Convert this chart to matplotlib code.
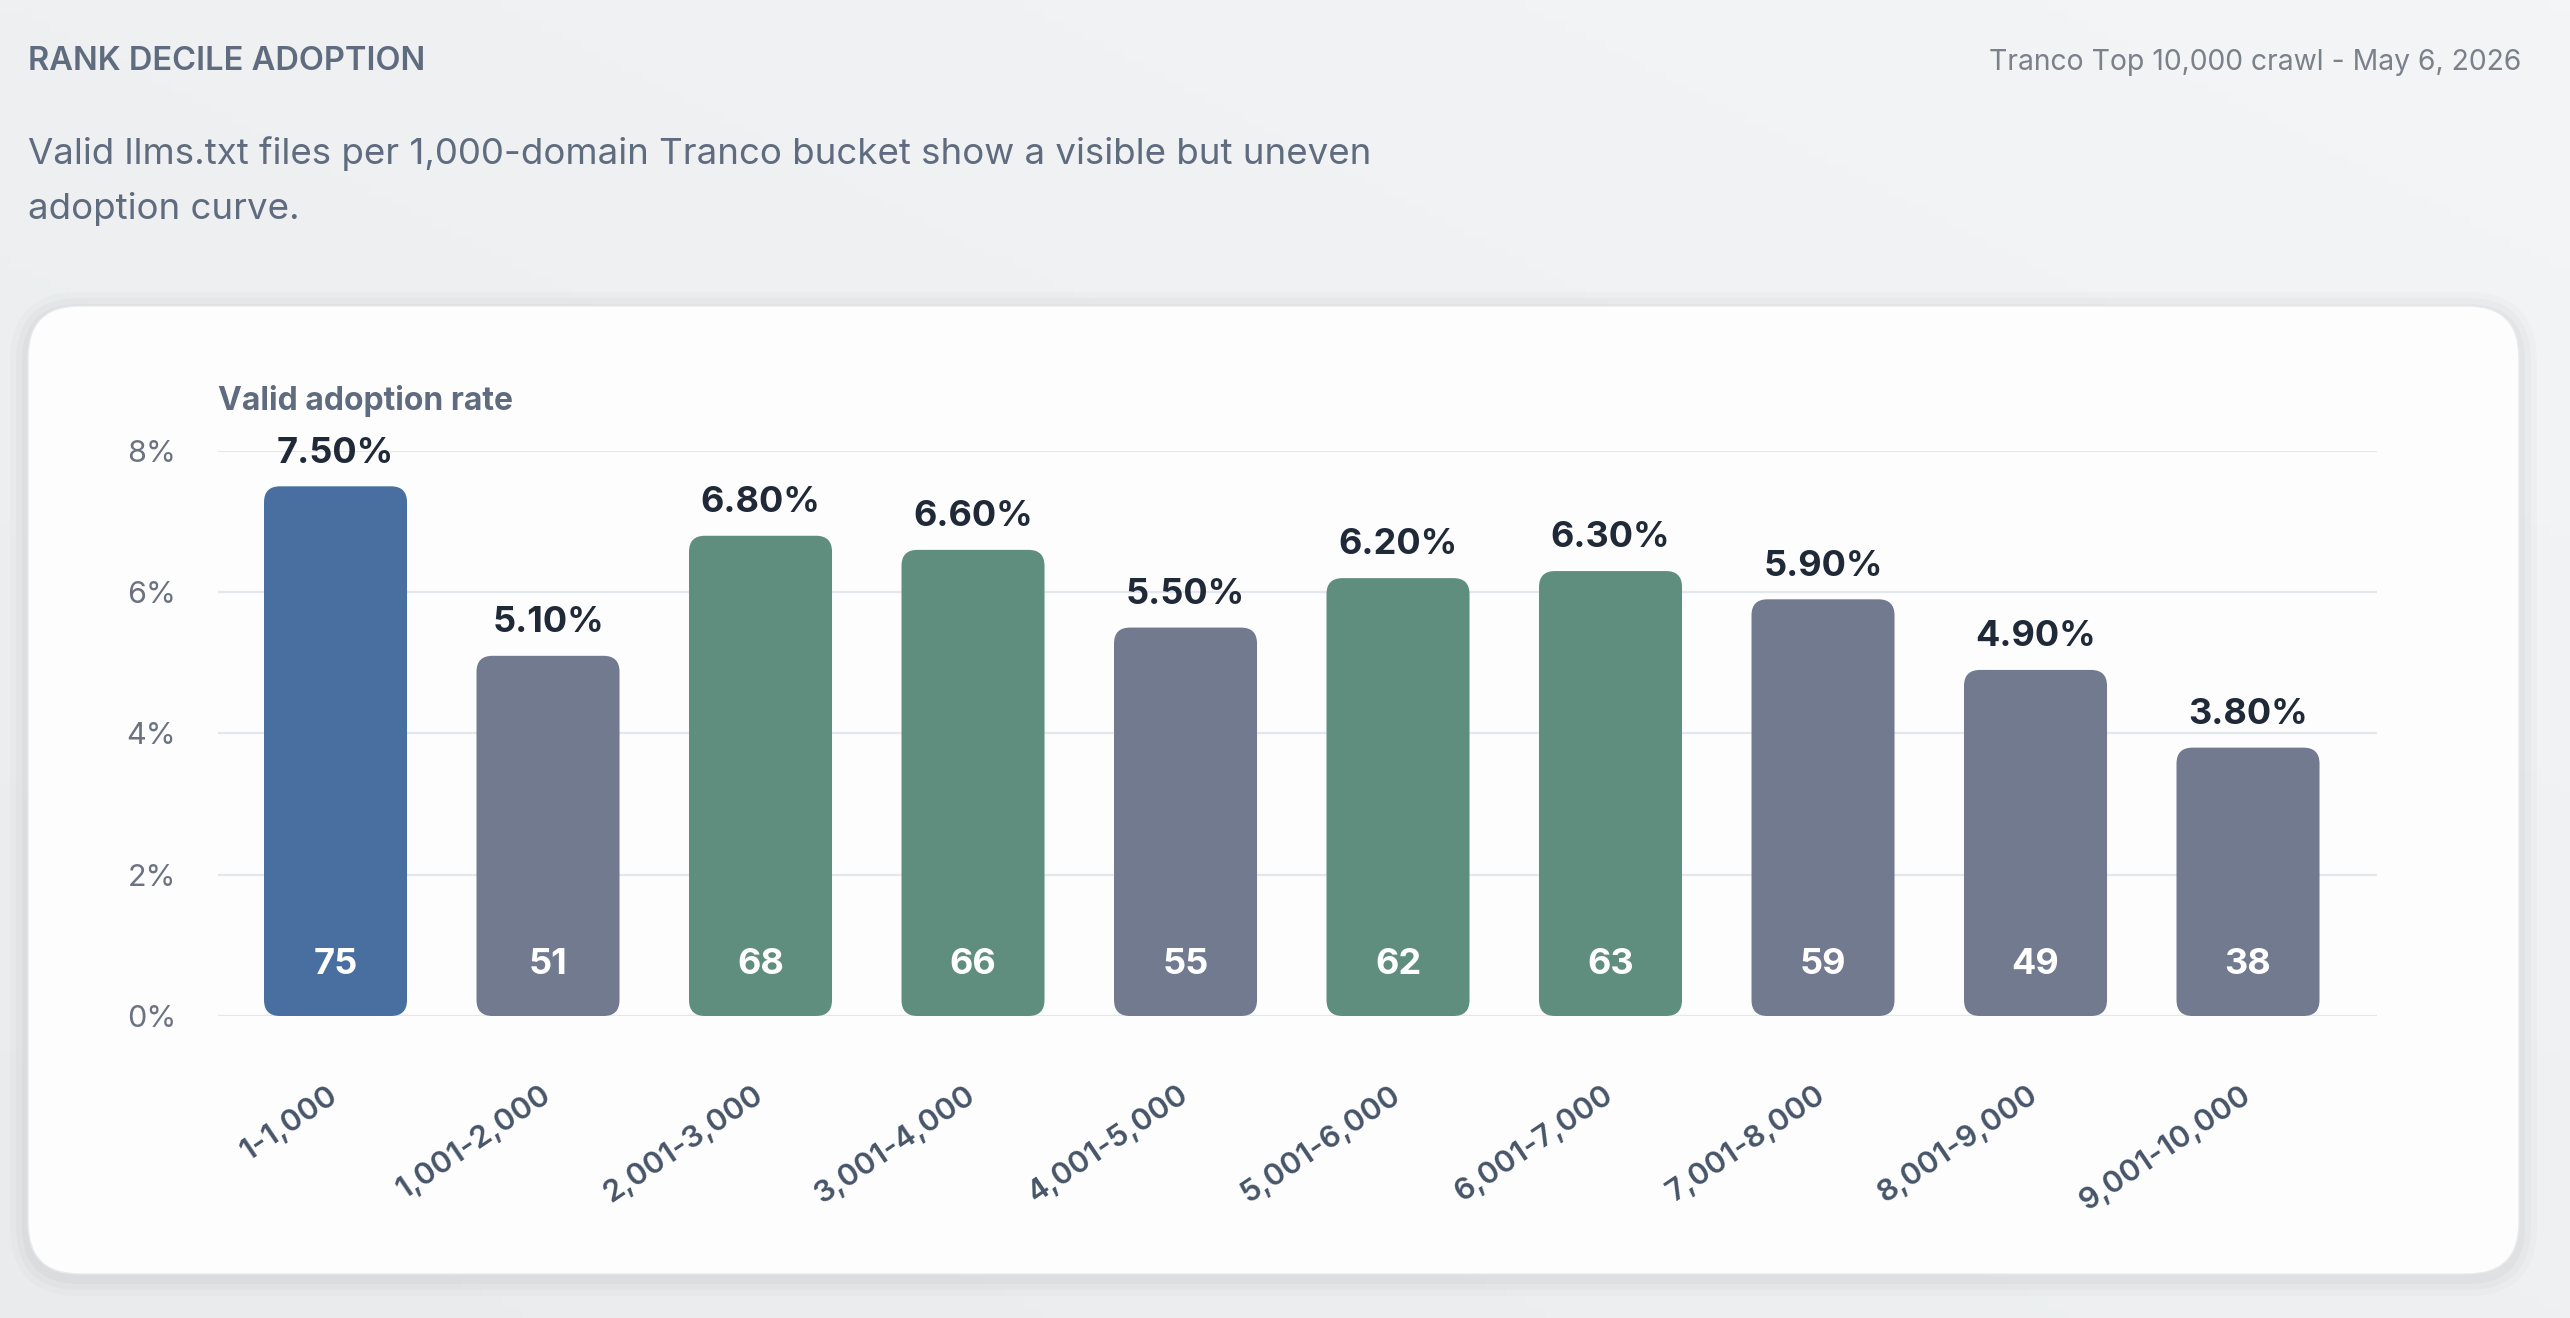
import numpy as np
import matplotlib.pyplot as plt
from matplotlib.patches import FancyBboxPatch

# ==========================================
# DATA
# ==========================================
buckets = ['1-1,000', '1,001-2,000', '2,001-3,000', '3,001-4,000', '4,001-5,000',
           '5,001-6,000', '6,001-7,000', '7,001-8,000', '8,001-9,000', '9,001-10,000']
rates = [7.5, 5.1, 6.8, 6.6, 5.5, 6.2, 6.3, 5.9, 4.9, 3.8]
valid_counts = [75, 51, 68, 66, 55, 62, 63, 59, 49, 38]
yticks = [0, 2, 4, 6, 8]

title = 'RANK DECILE ADOPTION'
subtitle = ('Valid llms.txt files per 1,000-domain Tranco bucket show a visible but uneven\n'
            'adoption curve.')
source = 'Tranco Top 10,000 crawl - May 6, 2026'
ylabel = 'Valid adoption rate'

# ==========================================
# STYLE
# ==========================================
plt.rcParams['font.family'] = ['Inter', 'DejaVu Sans']
BLUE = '#486fa0'
GREEN = '#5f8e7e'
GRAY = '#717a8e'
TEXT_DARK = '#1f2937'
TEXT_MID = '#5f6b7e'

W, H = 2570, 1318
fig = plt.figure(figsize=(W / 100, H / 100), dpi=100)

# background gradient
bg = fig.add_axes([0, 0, 1, 1], zorder=-10)
gx = np.linspace(0, 1, 256)
gy = np.linspace(0, 1, 128)[:, None]
grad = 0.5 * gx[None, :] + 0.5 * (1 - gy)
bg.imshow(grad, cmap=plt.matplotlib.colors.LinearSegmentedColormap.from_list(
    'bg', ['#e9ebed', '#f3f5f6']), aspect='auto', extent=[0, 1, 0, 1])
bg.set_xlim(0, 1)
bg.set_ylim(0, 1)
bg.axis('off')

# card with soft shadow
cx0, cy0, cx1, cy1 = 28 / W, 1 - 1274 / H, 2519 / W, 1 - 306 / H
asp = W / H
for i, a in enumerate([0.015, 0.02, 0.025]):
    s = (3 - i) * 6 / W
    bg.add_patch(FancyBboxPatch((cx0 - s, cy0 - s * asp - 4 / H), cx1 - cx0 + 2 * s,
                                cy1 - cy0 + 2 * s * asp,
                                boxstyle='round,pad=0,rounding_size=%f' % (0.02 + s),
                                mutation_aspect=asp, fc='#000000', ec='none', alpha=a,
                                transform=bg.transAxes))
bg.add_patch(FancyBboxPatch((cx0, cy0), cx1 - cx0, cy1 - cy0,
                            boxstyle='round,pad=0,rounding_size=0.02',
                            mutation_aspect=asp, fc='#fdfdfd', ec='#e7e9ec', lw=1.0,
                            transform=bg.transAxes))

# header texts
fig.text(28 / W, 1 - 62 / H, title, fontsize=23.5, fontweight='semibold',
         color=TEXT_MID, ha='left', va='center')
fig.text(28 / W, 1 - 181 / H, subtitle, fontsize=26.4, color=TEXT_MID,
         ha='left', va='center', linespacing=1.75)
fig.text(2521 / W, 1 - 62 / H, source, fontsize=20.4, color='#7a818b',
         ha='right', va='center')

# ==========================================
# CHART
# ==========================================
ax = fig.add_axes([218 / W, 1 - 1016 / H, (2377 - 218) / W, (1016 - 451) / H])
ax.set_facecolor('none')
x = np.arange(len(buckets))
ax.set_xlim(-0.553, 9.607)
ax.set_ylim(0, 8)

colors = [BLUE if i == 0 else (GREEN if r >= 6 else GRAY) for i, r in enumerate(rates)]
bars = ax.bar(x, rates, width=0.673, color=colors)

# replace plain bars with rounded ones
fig.canvas.draw()
bb = ax.get_window_extent()
px_x = bb.width / (ax.get_xlim()[1] - ax.get_xlim()[0])
px_y = bb.height / (ax.get_ylim()[1] - ax.get_ylim()[0])
rad = 16 / px_x
for b in bars:
    b.set_visible(False)
    ax.add_patch(FancyBboxPatch((b.get_x(), b.get_y()), b.get_width(), b.get_height(),
                                boxstyle='round,pad=0,rounding_size=%f' % rad,
                                mutation_aspect=px_x / px_y,
                                fc=b.get_facecolor(), ec='none', zorder=3))

for xi, r, c in zip(x, rates, valid_counts):
    ax.annotate(f'{r:.2f}%', (xi, r), xytext=(0, 12), textcoords='offset points',
                ha='center', va='bottom', fontsize=26, fontweight='bold',
                color=TEXT_DARK, zorder=4, annotation_clip=False)
    ax.annotate(str(c), (xi, 0), xytext=(0, 37), textcoords='offset points',
                ha='center', va='center', fontsize=26, fontweight='bold',
                color='white', zorder=4)

ax.set_yticks(yticks)
ax.set_yticklabels([f'{t}%' for t in yticks])
ax.grid(axis='y', color='#e3e8ec', lw=1.6, zorder=0)
ax.set_axisbelow(True)
ax.tick_params(axis='y', length=0, pad=30, labelsize=22, labelcolor='#6b7280')
ax.set_xticks(x)
ax.set_xticklabels(buckets, rotation=34, ha='right', va='center',
                   rotation_mode='anchor')
ax.tick_params(axis='x', length=0, pad=55, labelsize=22, labelcolor='#475569')
for lbl in ax.get_xticklabels():
    lbl.set_fontweight('semibold')
for sp in ax.spines.values():
    sp.set_visible(False)

fig.text(218 / W, 1 - 401 / H, ylabel, fontsize=23, fontweight='bold',
         color=TEXT_MID, ha='left', va='center')

plt.savefig('out.png', dpi=100)
